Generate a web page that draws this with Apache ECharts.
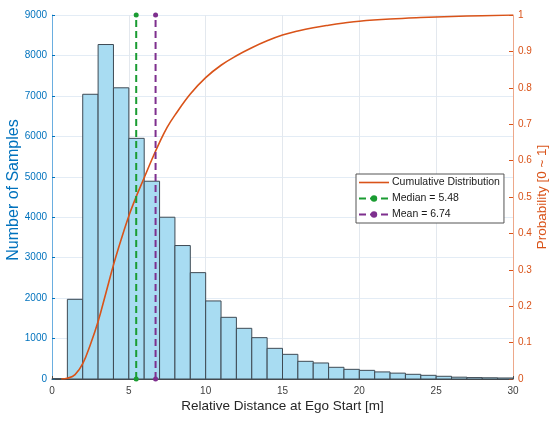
<!DOCTYPE html>
<html>
<head>
<meta charset="utf-8">
<script src="https://cdn.jsdelivr.net/npm/echarts@6/dist/echarts.min.js"></script>
<style>html,body{margin:0;padding:0;background:#fff}#c{width:550px;height:421px}</style>
</head>
<body>
<div id="c"></div>
<script>
// Histogram bin edges (width 1) and counts
const binEdges = [0,1,2,3,4,5,6,7,8,9,10,11,12,13,14,15,16,17,18,19,20,21,22,23,24,25,26,27,28,29,30];
const binCounts = [10,1970,7040,8270,7200,5950,4890,4000,3300,2630,1930,1525,1253,1022,758,610,437,396,289,239,214,175,145,116,91,67,45,35,30,25];
// Cumulative distribution
const cdfX = [0.6,1.0,1.5,2.0,2.5,3.0,3.5,4.0,4.5,5.0,5.5,6.0,6.5,7.0,7.5,8.0,9.0,10,11,12,13,14,15,16,17,18,19,20,22,24,26,28,30];
const cdfY = [0,0.002,0.012,0.042,0.095,0.158,0.235,0.313,0.383,0.448,0.503,0.553,0.603,0.650,0.692,0.725,0.783,0.828,0.862,0.888,0.910,0.929,0.945,0.956,0.965,0.972,0.978,0.983,0.989,0.993,0.996,0.998,1.0];
const medianValue = 5.48;
const meanValue = 6.74;
const countRange = [0, 9000];
const xTicks = [0,5,10,15,20,25,30];

const FONT = '"Liberation Sans", Arial, Helvetica, sans-serif';
const BLUE = '#0072bd', ORANGE = '#d95319', GREEN = '#1a9c32', PURPLE = '#7e2f8e';

const chart = echarts.init(document.getElementById('c'), null, {renderer: 'canvas'});
const barData = binCounts.map((v, i) => [binEdges[i], binEdges[i + 1], v]);

chart.setOption({
  animation: false,
  backgroundColor: '#ffffff',
  textStyle: {fontFamily: FONT},
  grid: {left: 52, right: 37, top: 15, bottom: 42, containLabel: false, outerBoundsMode: 'none'},
  legend: {
    orient: 'vertical',
    left: 356, top: 174,
    backgroundColor: '#ffffff',
    borderColor: '#555555', borderWidth: 1,
    padding: [3, 4, 3, 2],
    itemWidth: 30, itemHeight: 8, itemGap: 5,
    textStyle: {fontFamily: FONT, fontSize: 10.5, color: '#1a1a1a', padding: [0,0,0,-2]},
    data: [
      {name: 'Cumulative Distribution', icon: 'path://M0,0 L30,0 L30,1.6 L0,1.6 Z', itemStyle: {color: ORANGE}},
      'Median = 5.48', 'Mean = 6.74'
    ]
  },
  xAxis: {
    type: 'value', min: xTicks[0], max: xTicks[xTicks.length - 1], interval: 5,
    name: 'Relative Distance at Ego Start [m]', nameLocation: 'middle', nameGap: 20, nameMoveOverlap: false,
    nameTextStyle: {fontFamily: FONT, fontSize: 13.5, color: '#262626'},
    axisLine: {show: true, onZero: false, lineStyle: {color: '#4d4d4d', width: 1}},
    axisTick: {show: true, inside: true, length: 3, lineStyle: {color: '#4d4d4d'}},
    axisLabel: {fontFamily: FONT, fontSize: 10, color: '#404040', margin: 7},
    splitLine: {show: true, lineStyle: {color: '#e3e8ee', width: 1}}
  },
  yAxis: [{
    type: 'value', min: countRange[0], max: countRange[1], interval: 1000,
    name: 'Number of Samples', nameLocation: 'middle', nameGap: 30, nameRotate: 90, nameMoveOverlap: false,
    nameTextStyle: {fontFamily: FONT, fontSize: 16, color: BLUE, padding: [0, 0, 0, 14]},
    axisLine: {show: true, lineStyle: {color: '#6aaee0', width: 1}},
    axisTick: {show: true, inside: true, length: 3, lineStyle: {color: BLUE}},
    axisLabel: {fontFamily: FONT, fontSize: 10, color: BLUE, margin: 5, formatter: v => String(v)},
    splitLine: {show: true, lineStyle: {color: '#e3ecf5', width: 1}}
  }, {
    type: 'value', min: 0, max: 1, interval: 0.1, position: 'right',
    name: 'Probability [0 ~ 1]', nameLocation: 'middle', nameGap: 22, nameRotate: 90, nameMoveOverlap: false,
    nameTextStyle: {fontFamily: FONT, fontSize: 13.5, color: ORANGE},
    axisLine: {show: true, lineStyle: {color: '#eda88a', width: 1}},
    axisTick: {show: true, inside: true, length: 4, lineStyle: {color: ORANGE}},
    axisLabel: {fontFamily: FONT, fontSize: 10, color: ORANGE, margin: 5},
    splitLine: {show: false}
  }],
  series: [{
    name: 'Histogram', type: 'custom', yAxisIndex: 0,
    data: barData, encode: {x: [0, 1], y: 2},
    renderItem: function (params, api) {
      const p0 = api.coord([api.value(0), 0]);
      const p1 = api.coord([api.value(1), api.value(2)]);
      return {
        type: 'rect',
        shape: {x: p0[0], y: p1[1], width: p1[0] - p0[0], height: p0[1] - p1[1]},
        style: {fill: '#a8dcf2', stroke: '#3e4a54', lineWidth: 1}
      };
    },
    z: 1
  }, {
    name: 'Cumulative Distribution', type: 'line', yAxisIndex: 1,
    data: cdfX.map((x, i) => [x, cdfY[i]]),
    smooth: 0.4, symbol: 'none', showSymbol: false,
    lineStyle: {color: ORANGE, width: 1.6}, itemStyle: {color: ORANGE},
    z: 3
  }, {
    name: 'Median = 5.48', type: 'line', yAxisIndex: 0,
    data: [[medianValue, countRange[0]], [medianValue, countRange[1]]],
    symbol: 'circle', symbolSize: 5, showSymbol: true,
    lineStyle: {color: GREEN, width: 2, type: [7, 4]}, itemStyle: {color: GREEN},
    z: 4
  }, {
    name: 'Mean = 6.74', type: 'line', yAxisIndex: 0,
    data: [[meanValue, countRange[0]], [meanValue, countRange[1]]],
    symbol: 'circle', symbolSize: 5, showSymbol: true,
    lineStyle: {color: PURPLE, width: 2, type: [7, 4]}, itemStyle: {color: PURPLE},
    z: 4
  }]
});
</script>
</body>
</html>
